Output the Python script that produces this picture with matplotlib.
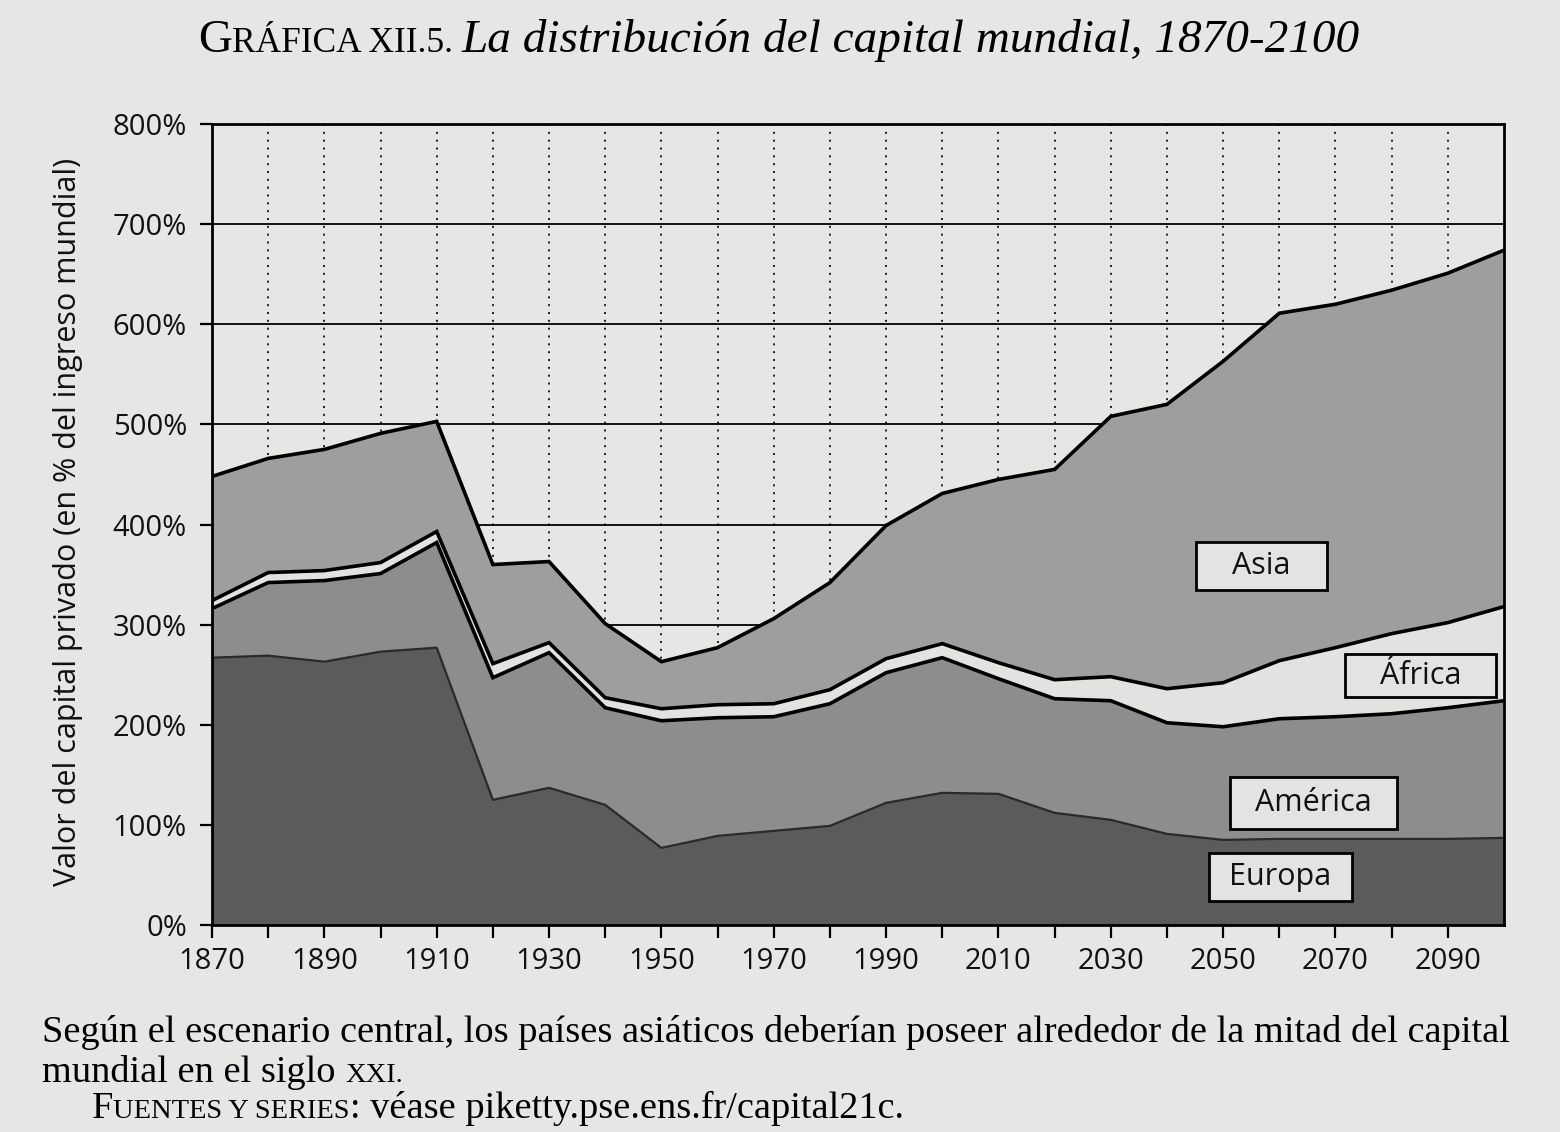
#!/usr/bin/env python3
"""Gráfica XII.5: distribución del capital mundial, 1870-2100."""

import numpy as np
import matplotlib

matplotlib.use("Agg")
import matplotlib.pyplot as plt
from matplotlib.patches import Rectangle
from matplotlib.offsetbox import TextArea, HPacker, AnchoredOffsetbox


YEARS = list(range(1870, 2101, 10))

# capital privado por región, % del ingreso mundial (no acumulado)
EUROPA = [267, 269, 263, 273, 277, 125, 137, 120, 77, 89, 94, 99, 122, 132, 131, 112, 105, 91, 85, 86, 86, 86, 86, 87]
AMERICA = [49, 73, 81, 78, 105, 122, 135, 97, 127, 118, 114, 122, 130, 135, 115, 114, 119, 111, 113, 120, 122, 125, 131, 137]
AFRICA = [8, 10, 10, 11, 11, 14, 10, 10, 12, 13, 13, 14, 14, 14, 16, 19, 24, 34, 44, 58, 69, 80, 85, 94]
ASIA = [124, 114, 121, 129, 110, 99, 81, 74, 47, 57, 85, 107, 133, 150, 183, 210, 260, 284, 321, 347, 343, 343, 349, 356]

REGIONS = ["Europa", "América", "África", "Asia"]
Y_TICKS = [0, 100, 200, 300, 400, 500, 600, 700, 800]
X_LABELS = list(range(1870, 2100, 20))

# (centro x, centro y, ancho, alto) de los recuadros de etiqueta
LABEL_BOXES = {
    "Asia": (2056.8, 359, 23.3, 48),
    "África": (2085.1, 249, 26.9, 43),
    "América": (2066.1, 122, 29.7, 52),
    "Europa": (2060.2, 48, 25.6, 48),
}

PAPER = "#e6e6e4"
FILLS = ["#5b5b5b", "#8d8d8d", "#e2e2e0", "#9e9e9e"]
SANS = "Open Sans"
SERIF = "Liberation Serif"


def main() -> None:
    fig = plt.figure(figsize=(15.6, 11.32), dpi=100, facecolor=PAPER)
    ax = fig.add_axes([212 / 1560, 1 - 925 / 1132, 1292 / 1560, 801 / 1132])
    ax.set_facecolor(PAPER)

    series = [EUROPA, AMERICA, AFRICA, ASIA]
    ax.stackplot(YEARS, *series, colors=FILLS, edgecolor="none", zorder=2)

    tops = np.cumsum(np.array(series), axis=0)
    ax.plot(YEARS, tops[0], color="#2a2a2a", lw=1.6, zorder=3)
    for row in tops[1:]:
        ax.plot(YEARS, row, color="black", lw=2.6, zorder=3, solid_joinstyle="miter")

    # rejilla: horizontales continuas, verticales punteadas
    for v in Y_TICKS[1:-1]:
        ax.axhline(v, color="black", lw=1.3, zorder=1)
    for yr in YEARS[1:-1]:
        ax.axvline(yr, color="black", lw=1.2, ls=(0, (1.2, 3.5)), zorder=1)

    ax.set_xlim(1870, 2100)
    ax.set_ylim(0, 800)
    ax.set_yticks(Y_TICKS)
    ax.set_yticklabels([f"{v}%" for v in Y_TICKS])
    ax.set_xticks(YEARS[:-1])
    ax.set_xticklabels([str(y) if y in X_LABELS else "" for y in YEARS[:-1]])
    ax.tick_params(axis="both", direction="out", length=9, width=1.6, color="black",
                   labelsize=21, labelcolor="#111111")
    ax.tick_params(axis="y", pad=9)
    ax.tick_params(axis="x", pad=7)
    for lab in ax.get_xticklabels() + ax.get_yticklabels():
        lab.set_fontfamily(SANS)
    for side in ["left", "bottom", "right", "top"]:
        ax.spines[side].set_linewidth(2)
        ax.spines[side].set_zorder(4)

    ax.set_ylabel("Valor del capital privado (en % del ingreso mundial)",
                  fontsize=22, fontfamily=SANS, color="#111111")
    ax.yaxis.set_label_coords(-0.1, 0.503)

    for name in REGIONS:
        cx, cy, w, h = LABEL_BOXES[name]
        ax.add_patch(Rectangle((cx - w / 2, cy - h / 2), w, h, facecolor="#e3e3e1",
                               edgecolor="black", lw=2, zorder=5))
        ax.text(cx, cy, name, ha="center", va="center", fontsize=22,
                fontfamily=SANS, color="#111111", zorder=6)

    # título con versalitas
    title = HPacker(children=[
        TextArea("G", textprops=dict(fontsize=34, family=SERIF)),
        TextArea("RÁFICA XII.5. ", textprops=dict(fontsize=25.5, family=SERIF)),
        TextArea("La distribución del capital mundial, 1870-2100",
                 textprops=dict(fontsize=34, family=SERIF, style="italic")),
    ], align="baseline", pad=0, sep=0)
    fig.add_artist(AnchoredOffsetbox(loc="center", child=title, frameon=False,
                                     bbox_to_anchor=(779 / 1560, 1 - 40 / 1132),
                                     bbox_transform=fig.transFigure, pad=0, borderpad=0))

    fig.text(42 / 1560, 1 - 1033 / 1132,
             "Según el escenario central, los países asiáticos deberían poseer alrededor de la mitad del capital",
             fontsize=27.6, family=SERIF, va="center", ha="left")

    line2 = HPacker(children=[
        TextArea("mundial en el siglo ", textprops=dict(fontsize=27.6, family=SERIF)),
        TextArea("XXI.", textprops=dict(fontsize=20.5, family=SERIF)),
    ], align="baseline", pad=0, sep=0)
    fig.add_artist(AnchoredOffsetbox(loc="center left", child=line2, frameon=False,
                                     bbox_to_anchor=(42 / 1560, 1 - 1073 / 1132),
                                     bbox_transform=fig.transFigure, pad=0, borderpad=0))

    line3 = HPacker(children=[
        TextArea("F", textprops=dict(fontsize=27.6, family=SERIF)),
        TextArea("UENTES Y SERIES", textprops=dict(fontsize=20.5, family=SERIF)),
        TextArea(": véase piketty.pse.ens.fr/capital21c.", textprops=dict(fontsize=27.6, family=SERIF)),
    ], align="baseline", pad=0, sep=0)
    fig.add_artist(AnchoredOffsetbox(loc="center left", child=line3, frameon=False,
                                     bbox_to_anchor=(92 / 1560, 1 - 1108 / 1132),
                                     bbox_transform=fig.transFigure, pad=0, borderpad=0))

    fig.savefig("out.png", dpi=100, facecolor=PAPER)
    plt.close(fig)


if __name__ == "__main__":
    main()
